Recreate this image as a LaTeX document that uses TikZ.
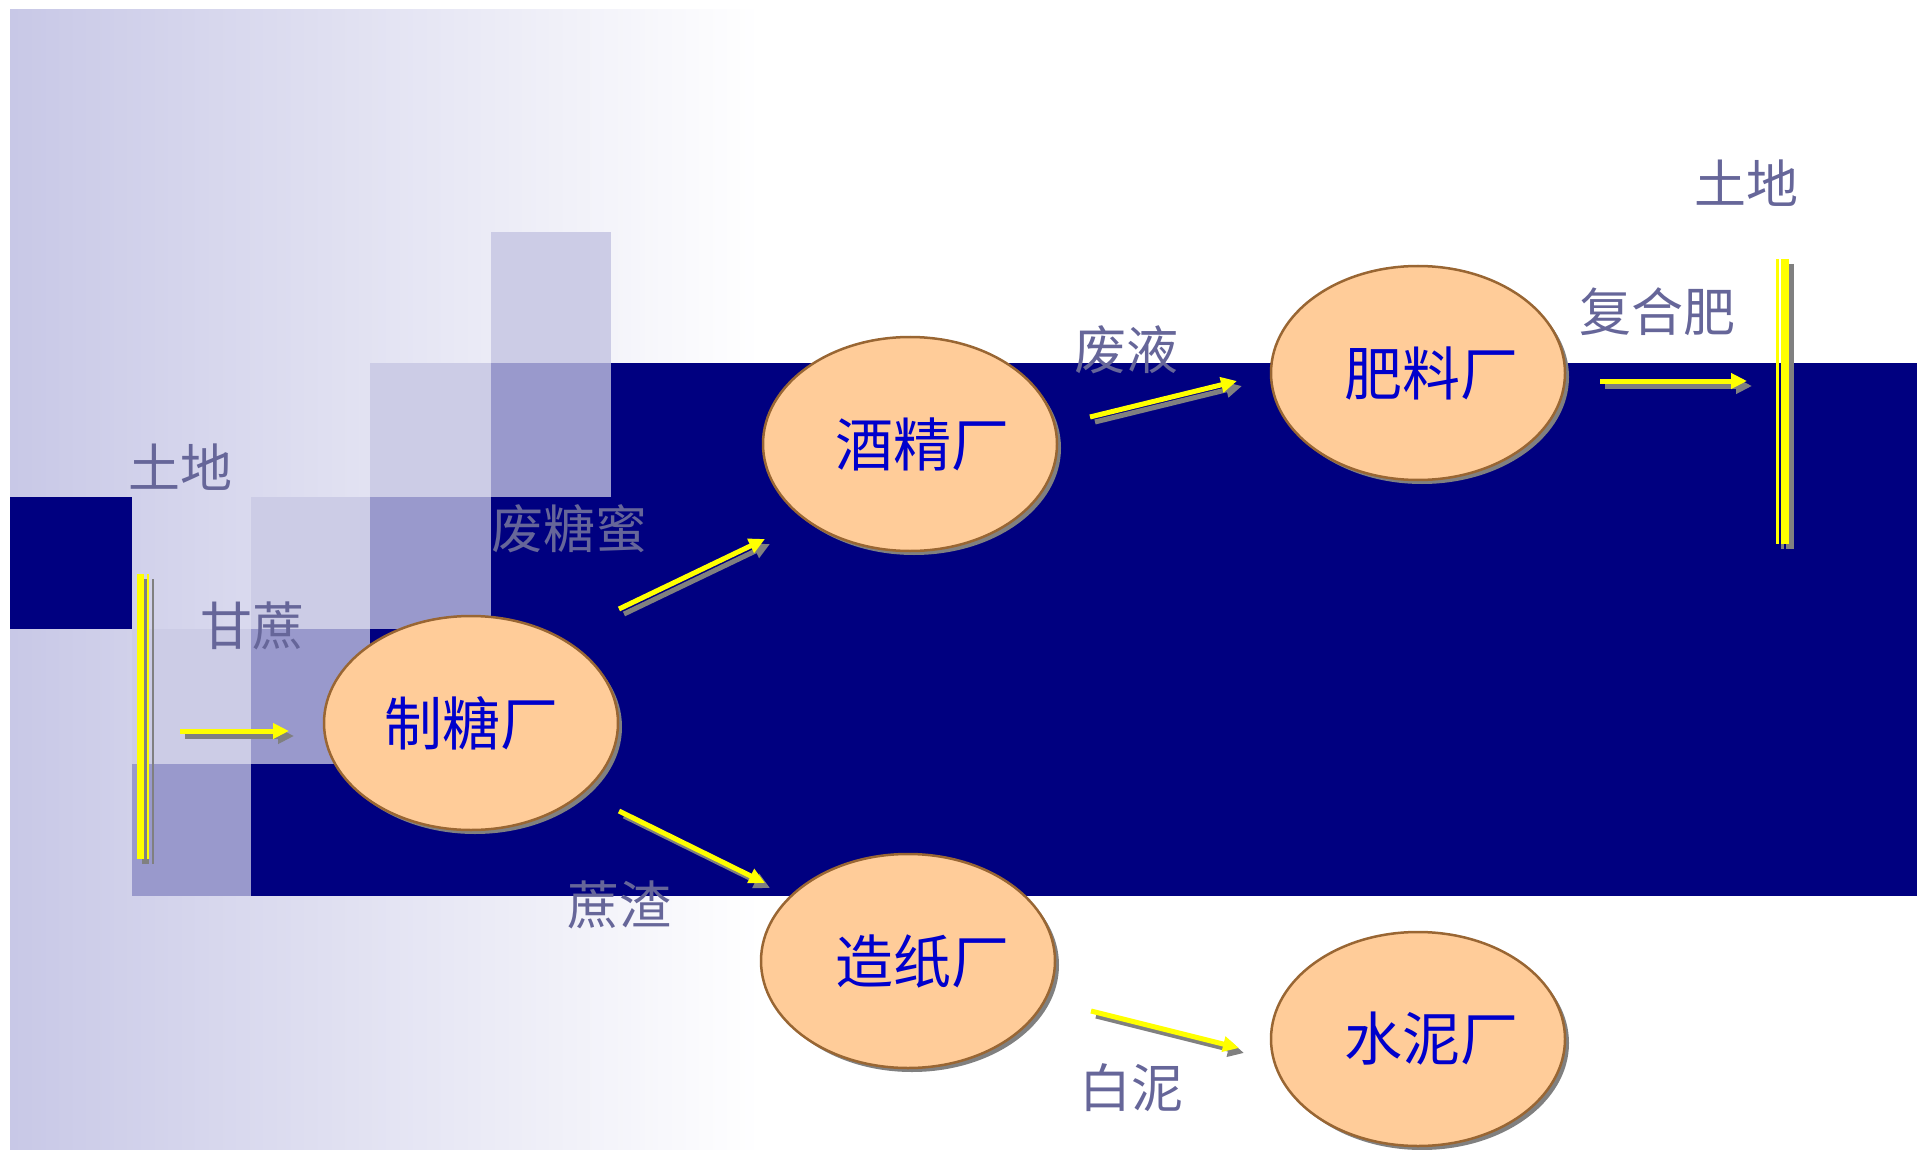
\documentclass[tikz,border=0pt]{standalone}
\usepackage{fontspec}
\newfontfamily\cjk{Noto Sans CJK SC}
\usetikzlibrary{shapes.geometric,arrows.meta}
\definecolor{navyband}{RGB}{0,0,128}
\definecolor{lightsq}{RGB}{204,204,230}
\definecolor{medsq}{RGB}{153,153,204}
\definecolor{peach}{RGB}{255,204,153}
\definecolor{brownb}{RGB}{153,102,51}
\definecolor{lbl}{RGB}{102,102,153}
\definecolor{ftxt}{RGB}{0,0,204}
\definecolor{shgray}{RGB}{128,128,128}
\definecolor{ylw}{RGB}{255,255,0}
\tikzset{
  fac/.style={ellipse, draw=brownb, line width=2.5pt, fill=peach,
    minimum width=294pt, minimum height=214pt, inner sep=0pt,
    text=ftxt, font=\cjk\fontsize{58}{64}\selectfont},
  facshadow/.style={ellipse, fill=shgray, minimum width=294pt, minimum height=214pt, inner sep=0pt},
  lab/.style={text=lbl, inner sep=0pt, font=\cjk\fontsize{52}{58}\selectfont},
  yarrow/.style={draw=ylw, line width=5pt, -{Triangle[length=16pt,width=15pt]}},
  garrow/.style={draw=shgray, line width=5pt, -{Triangle[length=16pt,width=15pt]}},
}
\begin{document}
\begin{tikzpicture}[x=1pt,y=-1pt]
\useasboundingbox (0,0) rectangle (1917,1150);
% background gradient
\shade[left color=lightsq!95!blue!40!lightsq, right color=white] (10,10) rectangle (760,1150);
% navy band
\fill[navyband] (611,363) rectangle (1917,896);
\fill[navyband] (491,497) rectangle (611,896);
\fill[navyband] (370,629) rectangle (491,896);
\fill[navyband] (251,764) rectangle (370,896);
\fill[navyband] (10,497) rectangle (132,629);
% squares
\fill[lightsq] (491,232) rectangle (611,363);
\fill[lightsq] (370,363) rectangle (491,497);
\fill[lightsq] (251,497) rectangle (370,629);
\fill[lightsq] (132,629) rectangle (251,764);
\fill[medsq] (491,363) rectangle (611,497);
\fill[medsq] (370,497) rectangle (491,629);
\fill[medsq] (251,629) rectangle (370,764);
\fill[medsq] (132,764) rectangle (251,896);

% factories (shadows first)
\node[facshadow] at (475,727) {};
\node[facshadow] at (914,448) {};
\node[facshadow] at (1422,377) {};
\node[facshadow] at (912,965) {};
\node[facshadow] at (1422,1043) {};
\node[fac] (zt) at (471,723) {制糖厂};
\node[fac] (jj) at (910,444) {\hspace*{24pt}酒精厂};
\node[fac] (fl) at (1418,373) {\hspace*{26pt}肥料厂};
\node[fac] (zz) at (908,961) {\hspace*{28pt}造纸厂};
\node[fac] (sn) at (1418,1039) {\hspace*{26pt}水泥厂};

% labels
\node[lab] (tdL) at (180,467) {土地};
\node[lab] (gz) at (252,626) {甘蔗};
\node[lab] (ftm) at (569,529) {废糖蜜};
\node[lab] (fy) at (1126,350) {废液};
\node[lab] (fhf) at (1657,312) {复合肥};
\node[lab] (tdR) at (1746,183) {土地};
\node[lab] (zzh) at (619,905) {蔗渣};
\node[lab] (bn) at (1131,1088) {白泥};

% arrow end points
\coordinate (a1s) at (180,731);  \coordinate (a1e) at (289,731);
\coordinate (a2s) at (619,609);  \coordinate (a2e) at (765,539);
\coordinate (a3s) at (619,811);  \coordinate (a3e) at (765,883);
\coordinate (a4s) at (1090,417); \coordinate (a4e) at (1237,381);
\coordinate (a5s) at (1600,381); \coordinate (a5e) at (1747,381);
\coordinate (a6s) at (1091,1011);\coordinate (a6e) at (1239,1048);
\foreach \a in {a1,a2,a3,a4,a5,a6}{
  \draw[garrow] ([xshift=5pt,yshift=-5pt]\a s) -- ([xshift=5pt,yshift=-5pt]\a e);
  \draw[yarrow] (\a s) -- (\a e);
}

% vertical land bars
\coordinate (lbt) at (140.7,574); \coordinate (lbb) at (140.7,859);
\coordinate (ltt) at (147.8,574); \coordinate (ltb) at (147.8,859);
\coordinate (rbt) at (1785,259);  \coordinate (rbb) at (1785,544);
\coordinate (rtt) at (1777.3,259);\coordinate (rtb) at (1777.3,544);
\draw[shgray, line width=6.7pt] ([xshift=5pt,yshift=-5pt]lbt) -- ([xshift=5pt,yshift=-5pt]lbb);
\draw[shgray, line width=2.4pt] ([xshift=5pt,yshift=-5pt]ltt) -- ([xshift=5pt,yshift=-5pt]ltb);
\draw[ylw, line width=6.7pt] (lbt) -- (lbb);
\draw[ylw, line width=2.4pt] (ltt) -- (ltb);
\draw[shgray, line width=7.4pt] ([xshift=5pt,yshift=-5pt]rbt) -- ([xshift=5pt,yshift=-5pt]rbb);
\draw[shgray, line width=2.7pt] ([xshift=5pt,yshift=-5pt]rtt) -- ([xshift=5pt,yshift=-5pt]rtb);
\draw[ylw, line width=7.4pt] (rbt) -- (rbb);
\draw[ylw, line width=2.7pt] (rtt) -- (rtb);
\end{tikzpicture}
\end{document}
